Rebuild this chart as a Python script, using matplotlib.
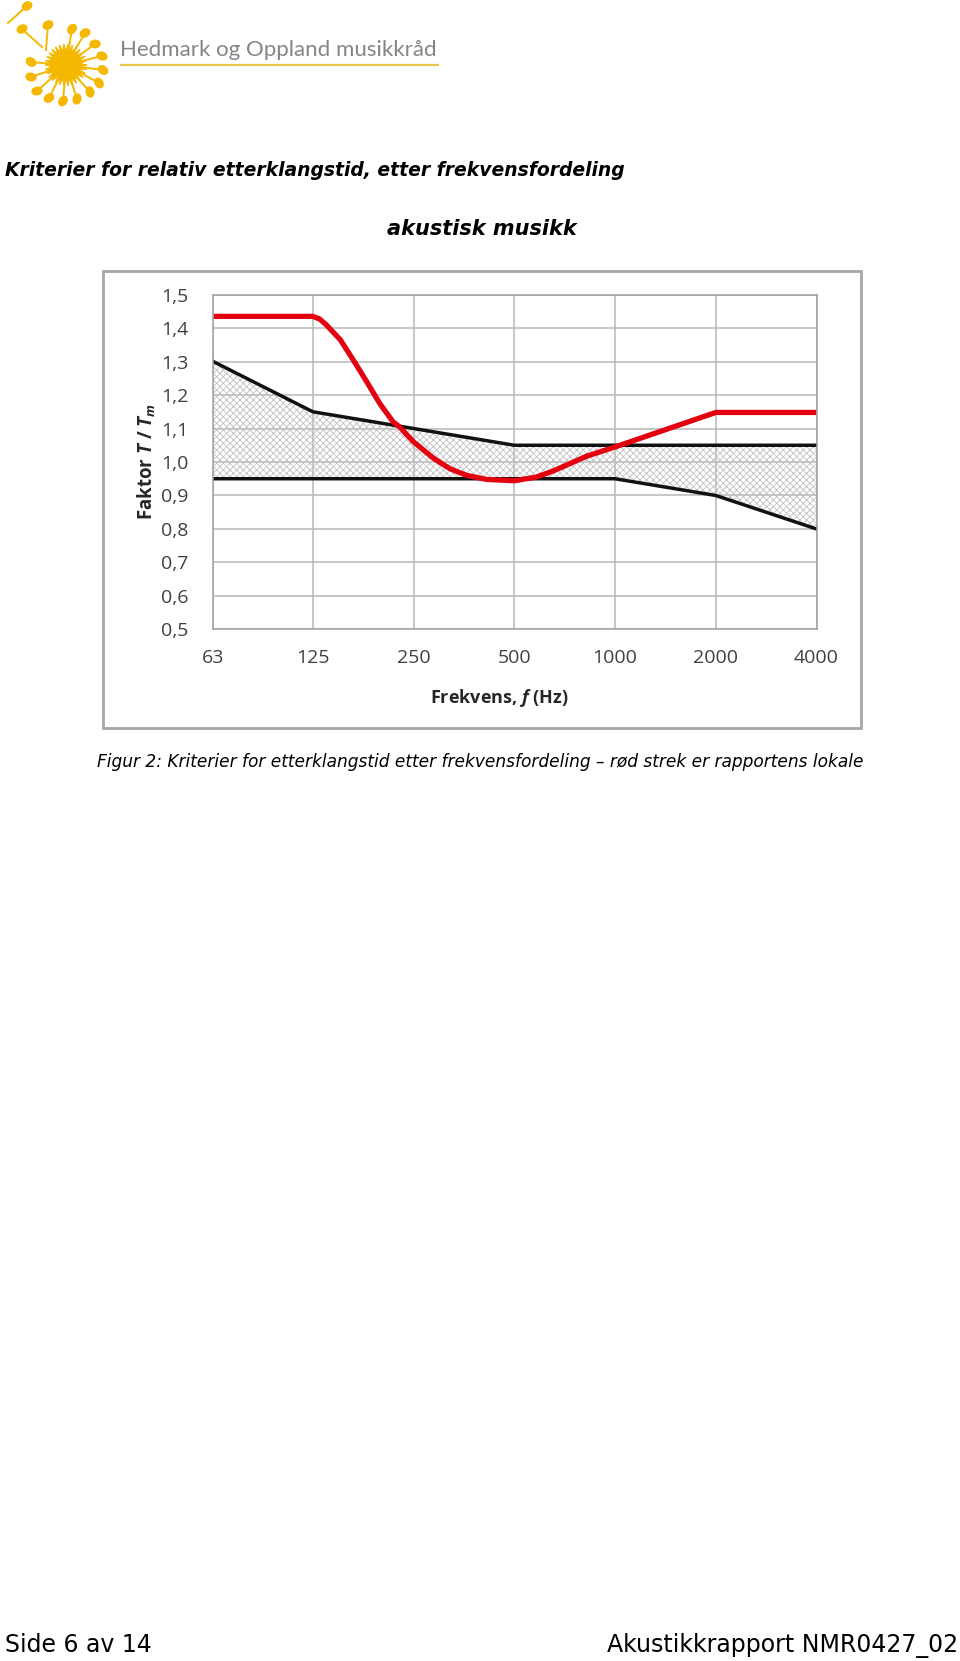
import numpy as np
import matplotlib
matplotlib.use("Agg")
import matplotlib.pyplot as plt
from matplotlib.patches import Rectangle, Ellipse, Polygon
from matplotlib.lines import Line2D

# ---------------- data ----------------
freq_ticks = [63, 125, 250, 500, 1000, 2000, 4000]
freq_labels = ["63", "125", "250", "500", "1000", "2000", "4000"]
upper_limit = [1.30, 1.15, 1.10, 1.05, 1.05, 1.05, 1.05]
lower_limit = [0.95, 0.95, 0.95, 0.95, 0.95, 0.90, 0.80]
red_freq = [63, 125, 131, 137, 151, 165, 181, 198, 217, 227, 250, 286, 321, 360,
            413, 500, 582, 653, 732, 821, 1000, 2000, 4000]
red_value = [1.435, 1.435, 1.427, 1.41, 1.365, 1.305, 1.24, 1.175, 1.12, 1.105, 1.06,
             1.012, 0.98, 0.96, 0.948, 0.944, 0.955, 0.973, 0.995, 1.017,
             1.045, 1.148, 1.148]
y_ticks = [0.5, 0.6, 0.7, 0.8, 0.9, 1.0, 1.1, 1.2, 1.3, 1.4, 1.5]
y_labels = ["0,5", "0,6", "0,7", "0,8", "0,9", "1,0", "1,1", "1,2", "1,3", "1,4", "1,5"]

W, H = 960, 1661
plt.rcParams["font.family"] = ["DejaVu Sans"]
plt.rcParams["mathtext.fontset"] = "custom"
plt.rcParams["mathtext.it"] = "Open Sans:italic:bold"
plt.rcParams["mathtext.rm"] = "Open Sans:bold"
plt.rcParams["hatch.linewidth"] = 0.6

fig = plt.figure(figsize=(W / 100, H / 100), dpi=100)


def fx(x):
    return x / W


def fy(y):
    return 1 - y / H


# ---------------- logo ----------------
lax = fig.add_axes([0, fy(110), fx(450), 110 / H])
lax.set_xlim(0, 450)
lax.set_ylim(110, 0)
lax.axis("off")
yellow = "#f5b800"
cx, cy = 66, 65
heads = [(72, 29), (85, 33), (95, 44), (102, 56), (103, 70), (99, 83), (90, 92),
         (77, 99), (63, 101), (49, 98), (37, 91), (31, 77), (31, 62)]
for hx, hy in heads:
    lax.add_line(Line2D([cx, hx], [cy, hy], color=yellow, lw=1.4))
    ang = np.degrees(np.arctan2(hy - cy, hx - cx))
    lax.add_patch(Ellipse((hx, hy), 10, 7.5, angle=ang + 30, color=yellow))
for (hx, hy), (sx, sy) in [((27, 6), (8, 23)), ((22, 29), (42, 47)), ((48, 25), (46, 50))]:
    lax.add_line(Line2D([hx, sx], [hy, sy], color=yellow, lw=1.4))
    lax.add_patch(Ellipse((hx, hy), 10, 7.5, angle=-30, color=yellow))
n = 30
t = np.linspace(0, 2 * np.pi, 2 * n, endpoint=False)
r = np.where(np.arange(2 * n) % 2 == 0, 21, 13)
lax.add_patch(Polygon(np.c_[cx + r * np.cos(t), cy + r * np.sin(t)], closed=True,
                      color=yellow))
lax.text(120, 56, "Hedmark og Oppland musikkråd", fontsize=16, family="Lato",
         color="#858585", va="baseline", ha="left")
lax.add_line(Line2D([121, 438], [65, 65], color="#e6c84a", lw=1.6))

# ---------------- titles ----------------
fig.text(fx(5), fy(170), "Kriterier for relativ etterklangstid, etter frekvensfordeling",
         fontsize=13.5, fontweight="bold", fontstyle="oblique", family="DejaVu Sans",
         va="center", ha="left")
fig.text(fx(482), fy(229), "akustisk musikk", fontsize=15, fontweight="bold",
         fontstyle="oblique", family="DejaVu Sans", va="center", ha="center")

# ---------------- chart frame ----------------
fig.patches.append(Rectangle((fx(103), fy(728)), fx(861) - fx(103), fy(271) - fy(728),
                             transform=fig.transFigure, fill=False,
                             edgecolor="#a6a6a6", lw=2))

ax = fig.add_axes([fx(213.3), fy(629.4), fx(816.5) - fx(213.3), fy(294.6) - fy(629.4)])
ax.set_xscale("log", base=2)
ax.set_xlim(63, 4000)
ax.set_ylim(0.5, 1.5)
ax.set_axisbelow(True)
ax.grid(True, color="#b8b8b8", lw=1.1)
for s in ax.spines.values():
    s.set_color("#a0a0a0")
    s.set_linewidth(1.1)

ax.fill_between(freq_ticks, lower_limit, upper_limit, facecolor="none",
                edgecolor="#c0c0c0", hatch="xxxxx", linewidth=0)
ax.plot(freq_ticks, upper_limit, color="#111111", lw=2.5, solid_joinstyle="miter")
ax.plot(freq_ticks, lower_limit, color="#111111", lw=2.5, solid_joinstyle="miter")
ax.plot(red_freq, red_value, color="#e3000f", lw=3.8, solid_capstyle="butt",
        solid_joinstyle="round")

ax.set_xticks(freq_ticks)
ax.set_xticklabels(freq_labels)
ax.xaxis.set_minor_locator(matplotlib.ticker.NullLocator())
ax.set_yticks(y_ticks)
ax.set_yticklabels(y_labels)
ax.tick_params(length=0, labelsize=14, colors="#404040")
ax.tick_params(axis="x", pad=14)
ax.tick_params(axis="y", pad=18)
for lab in ax.get_xticklabels() + ax.get_yticklabels():
    lab.set_family("Open Sans")

ax.set_xlabel(r"Frekvens, $f$ (Hz)", fontsize=13, fontweight="bold", family="Open Sans",
              color="#262626")
ax.xaxis.set_label_coords(0.475, -0.172)
ax.set_ylabel(r"Faktor $T$ / $T_m$", fontsize=13.5, fontweight="bold", family="Open Sans",
              color="#262626")
ax.yaxis.set_label_coords(-0.092, 0.5)

# ---------------- caption & footer ----------------
fig.text(fx(97), fy(762), "Figur 2: Kriterier for etterklangstid etter frekvensfordeling "
         "\u2013 rød strek er rapportens lokale", fontsize=12.25, fontstyle="oblique",
         family="DejaVu Sans", va="center", ha="left")
fig.text(fx(5), fy(1645), "Side 6 av 14", fontsize=17, family="DejaVu Sans",
         va="center", ha="left")
fig.text(fx(958), fy(1645), "Akustikkrapport NMR0427_02", fontsize=17,
         family="DejaVu Sans", va="center", ha="right")

fig.savefig("out.png", dpi=100, facecolor="white")
